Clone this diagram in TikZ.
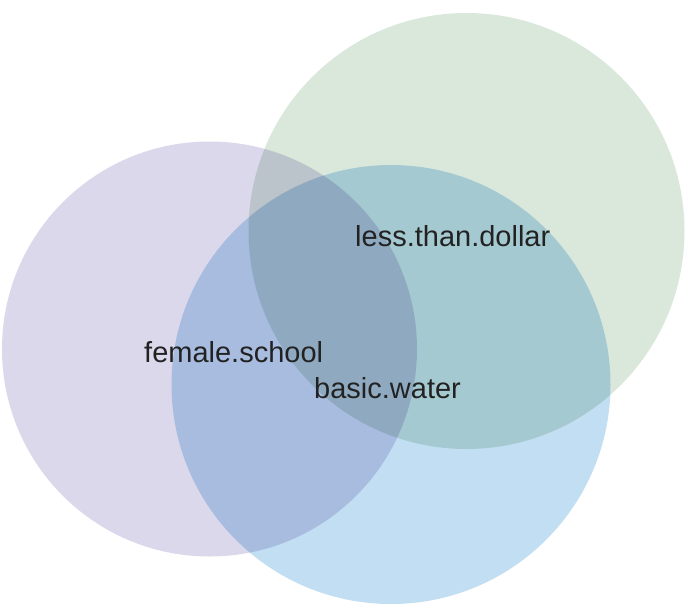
\documentclass[tikz,border=0pt]{standalone}
\usepackage{fontspec}
\setmainfont{Liberation Sans}
\definecolor{cpurple}{RGB}{220,216,236}
\definecolor{cgreen}{RGB}{218,232,220}
\definecolor{cblue}{RGB}{194,222,242}
\definecolor{ctext}{RGB}{34,34,34}
\begin{document}
\begin{tikzpicture}[x=1pt,y=-1pt,
  setcircle/.style={draw=none},
  setlabel/.style={anchor=base west,inner sep=0pt,text=ctext,font=\fontsize{29}{34}\selectfont}]
\useasboundingbox[fill=white] (0,0) rectangle (691,611);
\begin{scope}[blend group=multiply]
\fill[setcircle,cpurple] (209.5,349) circle (207.5);
\fill[setcircle,cgreen] (466.5,231) circle (218);
\fill[setcircle,cblue] (391,384.5) circle (219.5);
\end{scope}
\node[setlabel] (ltd) at (355,246) {less.than.dollar};
\node[setlabel] (fs) at (144,362.3) {female.school};
\node[setlabel] (bw) at (314,398.3) {basic.water};
\end{tikzpicture}
\end{document}
